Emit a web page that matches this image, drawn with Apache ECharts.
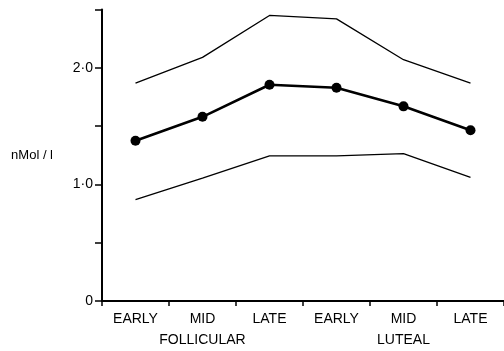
<!DOCTYPE html>
<html>
<head>
<meta charset="utf-8">
<script src="https://cdn.jsdelivr.net/npm/echarts@6/dist/echarts.min.js"></script>
<style>
html,body{margin:0;padding:0;background:#fff;}
#chart{width:504px;height:351px;}
</style>
</head>
<body>
<div id="chart"></div>
<script>
var phases = ['EARLY', 'MID', 'LATE', 'EARLY', 'MID', 'LATE'];
var groups = ['FOLLICULAR', 'LUTEAL'];
var upper = [1.87, 2.09, 2.45, 2.42, 2.07, 1.87];
var mean = [1.375, 1.58, 1.855, 1.83, 1.67, 1.465];
var lower = [0.87, 1.055, 1.245, 1.245, 1.265, 1.06];
var yTickLabels = {0: '0', 1: '1·0', 2: '2·0'};
var yName = 'nMol / l';

var chart = echarts.init(document.getElementById('chart'), null, {renderer: 'canvas'});
var fontFam = '"Liberation Sans", Arial, sans-serif';
chart.setOption({
  animation: false,
  backgroundColor: '#fff',
  grid: {left: 102, right: -8, top: 9.6, bottom: 47.7, containLabel: false},
  xAxis: {
    type: 'category',
    data: phases,
    boundaryGap: true,
    axisLine: {lineStyle: {color: '#000', width: 2}},
    axisTick: {show: true, length: 5, lineStyle: {color: '#000', width: 1.5}, alignWithLabel: false},
    axisLabel: {
      color: '#000', fontFamily: fontFam, fontSize: 14, margin: 8, lineHeight: 21,
      interval: 0,
      formatter: function (v, i) {
        if (i === 1) return v + '\n' + groups[0];
        if (i === 4) return v + '\n' + groups[1];
        return v;
      }
    },
    splitLine: {show: false}
  },
  yAxis: {
    type: 'value',
    min: 0, max: 2.5, interval: 0.5,
    name: yName,
    nameLocation: 'middle',
    nameRotate: 0,
    nameGap: 49,
    nameTextStyle: {color: '#000', fontFamily: fontFam, fontSize: 13, align: 'right', padding: [0, 0, 3, 0]},
    axisLine: {show: true, lineStyle: {color: '#000', width: 2}},
    axisTick: {show: true, length: 7, lineStyle: {color: '#000', width: 1.5}},
    axisLabel: {
      color: '#000', fontFamily: fontFam, fontSize: 14, margin: 9,
      formatter: function (v) { return yTickLabels[v] !== undefined ? yTickLabels[v] : ''; }
    },
    splitLine: {show: false}
  },
  series: [
    {type: 'line', data: upper, symbol: 'none', lineStyle: {color: '#000', width: 1.3}, z: 2},
    {type: 'line', data: lower, symbol: 'none', lineStyle: {color: '#000', width: 1.3}, z: 2},
    {type: 'line', data: mean, symbol: 'circle', symbolSize: 10,
      itemStyle: {color: '#000'}, lineStyle: {color: '#000', width: 2.6}, z: 3}
  ]
});
</script>
</body>
</html>
